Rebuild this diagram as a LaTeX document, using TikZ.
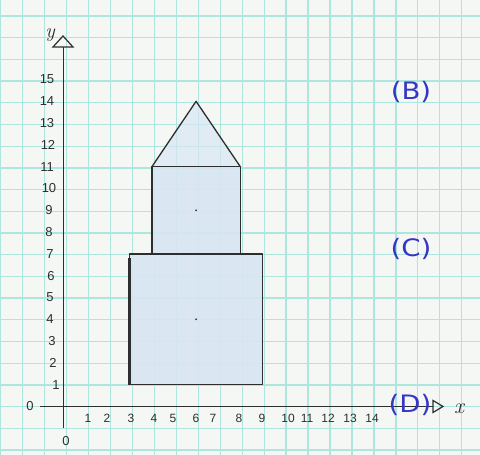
\documentclass[tikz,border=0pt]{standalone}
\usepackage{fontspec}
\newfontfamily\labelfont{DejaVu Sans}
\newfontfamily\handfont{Liberation Sans}
\definecolor{paper}{HTML}{F5F7F5}
\definecolor{gridc}{HTML}{AEE5DC}
\definecolor{penblue}{HTML}{D8E6F3}
\definecolor{ink}{HTML}{2E2E2E}
\definecolor{lblue}{HTML}{3636C4}
\tikzset{
  gridline/.style={draw=gridc, line width=1.3pt},
  outline/.style={draw=ink, line width=1.3pt, line join=round},
  axisline/.style={draw=ink, line width=1.2pt},
  ynum/.style={font=\handfont\fontsize{13}{13}\selectfont, text=ink, inner sep=0pt},
  xnum/.style={font=\handfont\fontsize{12}{12}\selectfont, text=ink, inner sep=0pt},
  biglabel/.style={font=\labelfont\fontsize{24}{24}\selectfont, text=lblue, inner sep=0pt, xscale=1.15},
}
\begin{document}
\begin{tikzpicture}[x=1pt,y=1pt]
\useasboundingbox (0,0) rectangle (480,455);
\fill[paper] (0,0) rectangle (480,455);
\foreach \k in {0,...,21} \draw[gridline] ({0.75+21.95*\k},0) -- ++(0,455);
\foreach \k in {0,...,20} \draw[gridline] (0,{439-21.7*\k}) -- ++(480,0);
\begin{scope}[shift={(63.5,48.5)}, x=22.1pt, y=21.8pt]
  % pencil colouring
  \fill[penblue, opacity=0.9] (3,1) rectangle (9,7);
  \fill[penblue, opacity=0.9] (4,7) rectangle (8,11);
  \fill[penblue, opacity=0.7] (4,11) -- (6,14) -- (8,11) -- cycle;
  % outlines
  \draw[outline] (3,1) rectangle (9,7);
  \draw[outline] (4,7) -- (4,11) -- (8,11) -- (8,7);
  \draw[outline] (4,11) -- (6,14) -- (8,11);
  \draw[draw=ink, line width=2.8pt] (3,1) -- (3,6.8);
  % centre dots
  \fill[ink] (6,9) circle (1pt);
  \fill[ink] (6,4) circle (1pt);
\end{scope}
% axes
\draw[axisline] (63.5,27) -- (63.5,408);
\draw[axisline] (53,408) -- (63,419) -- (73,408) -- cycle;
\draw[axisline] (40,48.5) -- (433,48.5);
\draw[axisline] (433,54.5) -- (443,48.5) -- (433,42.5) -- cycle;
\node[font=\itshape\fontsize{20}{20}\selectfont, text=ink] (ylab) at (50,420) {y};
\node[font=\itshape\fontsize{22}{22}\selectfont, text=ink] (xlab) at (459,46) {x};
% y numbers
\foreach \n/\px in {15/47,14/47,13/47,12/48,11/47,10/49,9/49,8/49,7/50,6/51,5/50,4/50,3/52,2/53,1/56}
  \node[ynum] (y\n) at (\px,{48.5+21.8*\n}) {\n};
\node[ynum] (o1) at (30,49) {0};
\node[ynum] (o2) at (66,14) {0};
% x numbers
\foreach \n/\px in {1/88,2/107,3/131,4/154,5/173,6/196,7/213,8/239,9/262,10/288,11/307,12/328,13/350,14/372}
  \node[xnum] (x\n) at (\px,37) {\n};
% blue labels
\node[biglabel] (B) at (411,363) {(B)};
\node[biglabel] (C) at (411,206) {(C)};
\node[biglabel] (D) at (410,50) {(D)};
\end{tikzpicture}
\end{document}
